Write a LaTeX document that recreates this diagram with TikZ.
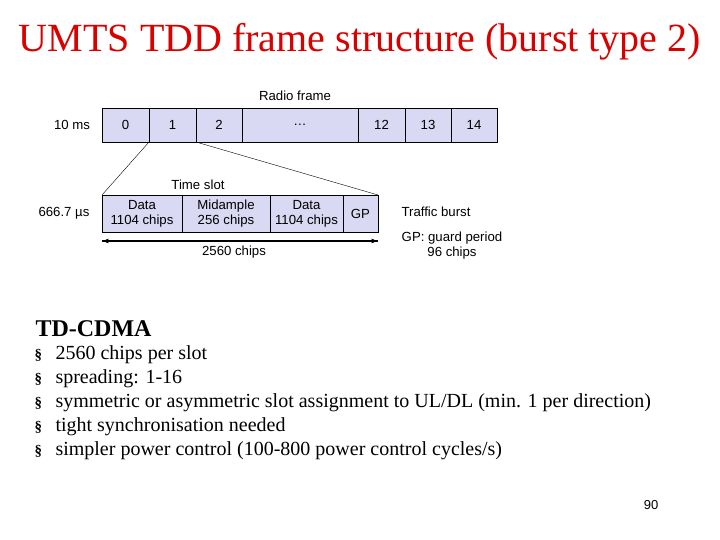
\documentclass[tikz,border=0pt]{standalone}
\usepackage{fontspec}
\setmainfont{Liberation Serif}
\newfontfamily\arial{Liberation Sans}
\begin{document}
\begin{tikzpicture}[x=1pt,y=-1pt,
 cell/.style={draw=black,fill=boxfill,line width=0.5pt},
 lab/.style={font=\arial\fontsize{13.2}{15}\selectfont,align=center},
 bul/.style={anchor=west,font=\fontsize{20}{22}\selectfont}]
\definecolor{boxfill}{RGB}{217,217,243}
\useasboundingbox (0,0) rectangle (720,540);
\node[font=\fontsize{40}{44}\selectfont,text=red!85!black] (title) at (360,42) {UMTS TDD frame structure (burst type 2)};
\node[lab] (rf) at (295,96) {Radio frame};
\node[lab] (tenms) at (72,125) {10 ms};
\foreach \a/\b/\t [count=\i] in {102/149/0,149/196/1,196/242/2,242/358/\dots,358/405/12,405/451/13,451/497/14}{
 \draw[cell] (\a,108) rectangle (\b,142);
 \node[lab] (f\i) at ({(\a+\b)/2},125) {\t};
}
\coordinate (fa) at (149,142); \coordinate (fb) at (196,142);
\node[lab] (ts) at (198,185) {Time slot};
\node[lab] (us) at (64,213) {666.7 µs};
\foreach \a/\b/\t [count=\i] in {102/182/{Data\\1104 chips},182/270/{Midample\\256 chips},270/343/{Data\\1104 chips},343/378/GP}{
 \draw[cell] (\a,195) rectangle (\b,232);
 \node[lab,inner sep=1pt] (s\i) at ({(\a+\b)/2},214) {\t};
}
\coordinate (sa) at (102,195); \coordinate (sb) at (378,195);
\draw (fa) -- (sa); \draw (fb) -- (sb);
\coordinate (ar1) at (102,241); \coordinate (ar2) at (378,241);
\draw[-latex,line width=1.2pt] (ar1) -- (ar2); \draw[-latex,line width=1.2pt] (ar2) -- (ar1);
\node[lab] (chips) at (234,252) {2560 chips};
\node[lab] (tb) at (436,212) {Traffic burst};
\node[lab] (gp) at (452,246) {GP: guard period\\96 chips};
\node[anchor=west,font=\bfseries\fontsize{24}{26}\selectfont] (td) at (32,329) {TD-CDMA};
\foreach \y/\t [count=\i] in {355/{2560 chips per slot},379/{spreading: 1-16},403/{symmetric or asymmetric slot assignment to UL/DL (min. 1 per direction)},427/{tight synchronisation needed},451/{simpler power control (100-800 power control cycles/s)}}{
 \node[anchor=west,font=\bfseries\fontsize{15}{16}\selectfont] (m\i) at (31,\y) {§};
 \node[bul] (b\i) at (52,\y) {\t};
}
\node[font=\arial\fontsize{13}{14}\selectfont] (pg) at (651,505) {90};
\end{tikzpicture}
\end{document}
